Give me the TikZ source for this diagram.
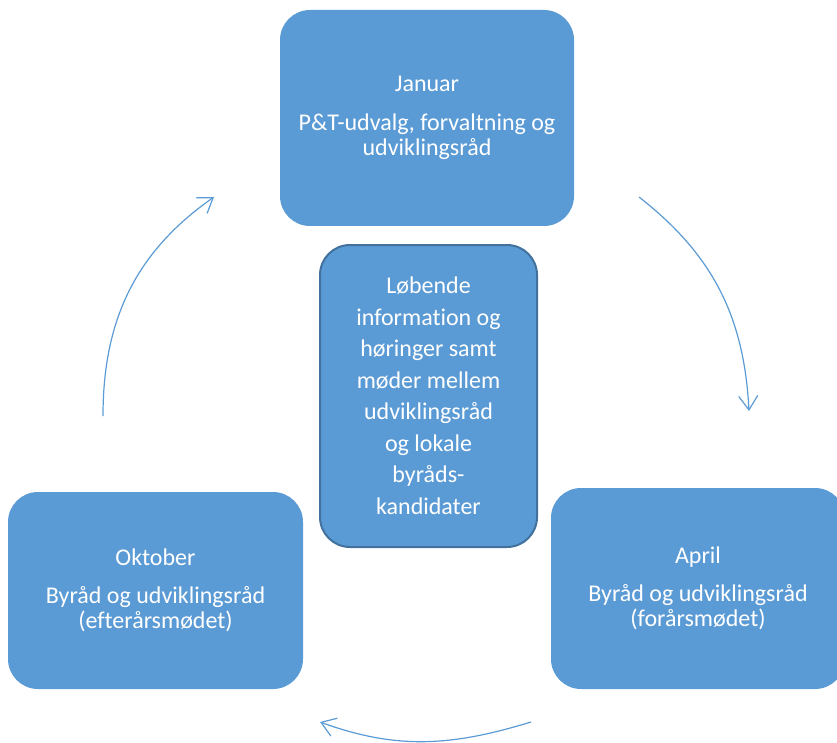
\documentclass[tikz,border=0pt]{standalone}
\usepackage{fontspec}
\setmainfont{Carlito}[Ligatures=NoCommon]
\usetikzlibrary{arrows.meta}
\definecolor{boxblue}{HTML}{5B9BD5}
\definecolor{boxedge}{HTML}{41719C}
\tikzset{
  phase/.style={rectangle, rounded corners=30pt, fill=boxblue, draw=none,
    text=white, align=center, inner sep=0pt,
    font=\fontsize{24}{25.5}\selectfont},
  middlebox/.style={rectangle, rounded corners=30pt, fill=boxblue, draw=boxedge,
    line width=2pt, text=white, align=center, inner sep=0pt,
    minimum width=217pt, minimum height=302pt,
    font=\fontsize{24}{31.5}\selectfont},
  cyc/.style={draw=boxblue, line width=1.2pt,
    -{Straight Barb[length=14pt,width=19pt,line width=1.2pt]}}
}
\begin{document}
\begin{tikzpicture}[x=1pt,y=-1pt]
\useasboundingbox (0,0) rectangle (837,743);
\node[phase, minimum width=294pt, minimum height=216pt] (jan) at (427,118)
  {Januar\\[13pt]P\&T-udvalg, forvaltning og\\udviklingsråd};
\node[phase, minimum width=294pt, minimum height=201pt] (apr) at (698,588.5)
  {April\\[12.5pt]Byråd og udviklingsråd\\(forårsmødet)};
\node[phase, minimum width=295pt, minimum height=197pt] (okt) at (155.5,590.5)
  {Oktober\\[12pt]Byråd og udviklingsråd\\(efterårsmødet)};
\node[middlebox] (mid) at (428.5,396)
  {Løbende\\information og\\høringer samt\\møder mellem\\udviklingsråd\\og lokale\\byråds-\\kandidater};
\coordinate (a1s) at (639,197);
\coordinate (a1e) at (749,411);
\coordinate (a2s) at (531,722);
\coordinate (a2e) at (320,722);
\coordinate (a3s) at (103,416);
\coordinate (a3e) at (214,197);
\draw[cyc] (a1s) to[out=-38, in=93] (a1e);
\draw[cyc] (a2s) to[out=197, in=-20] (a2e);
\draw[cyc] (a3s) to[out=90, in=215] (a3e);
\end{tikzpicture}
\end{document}
